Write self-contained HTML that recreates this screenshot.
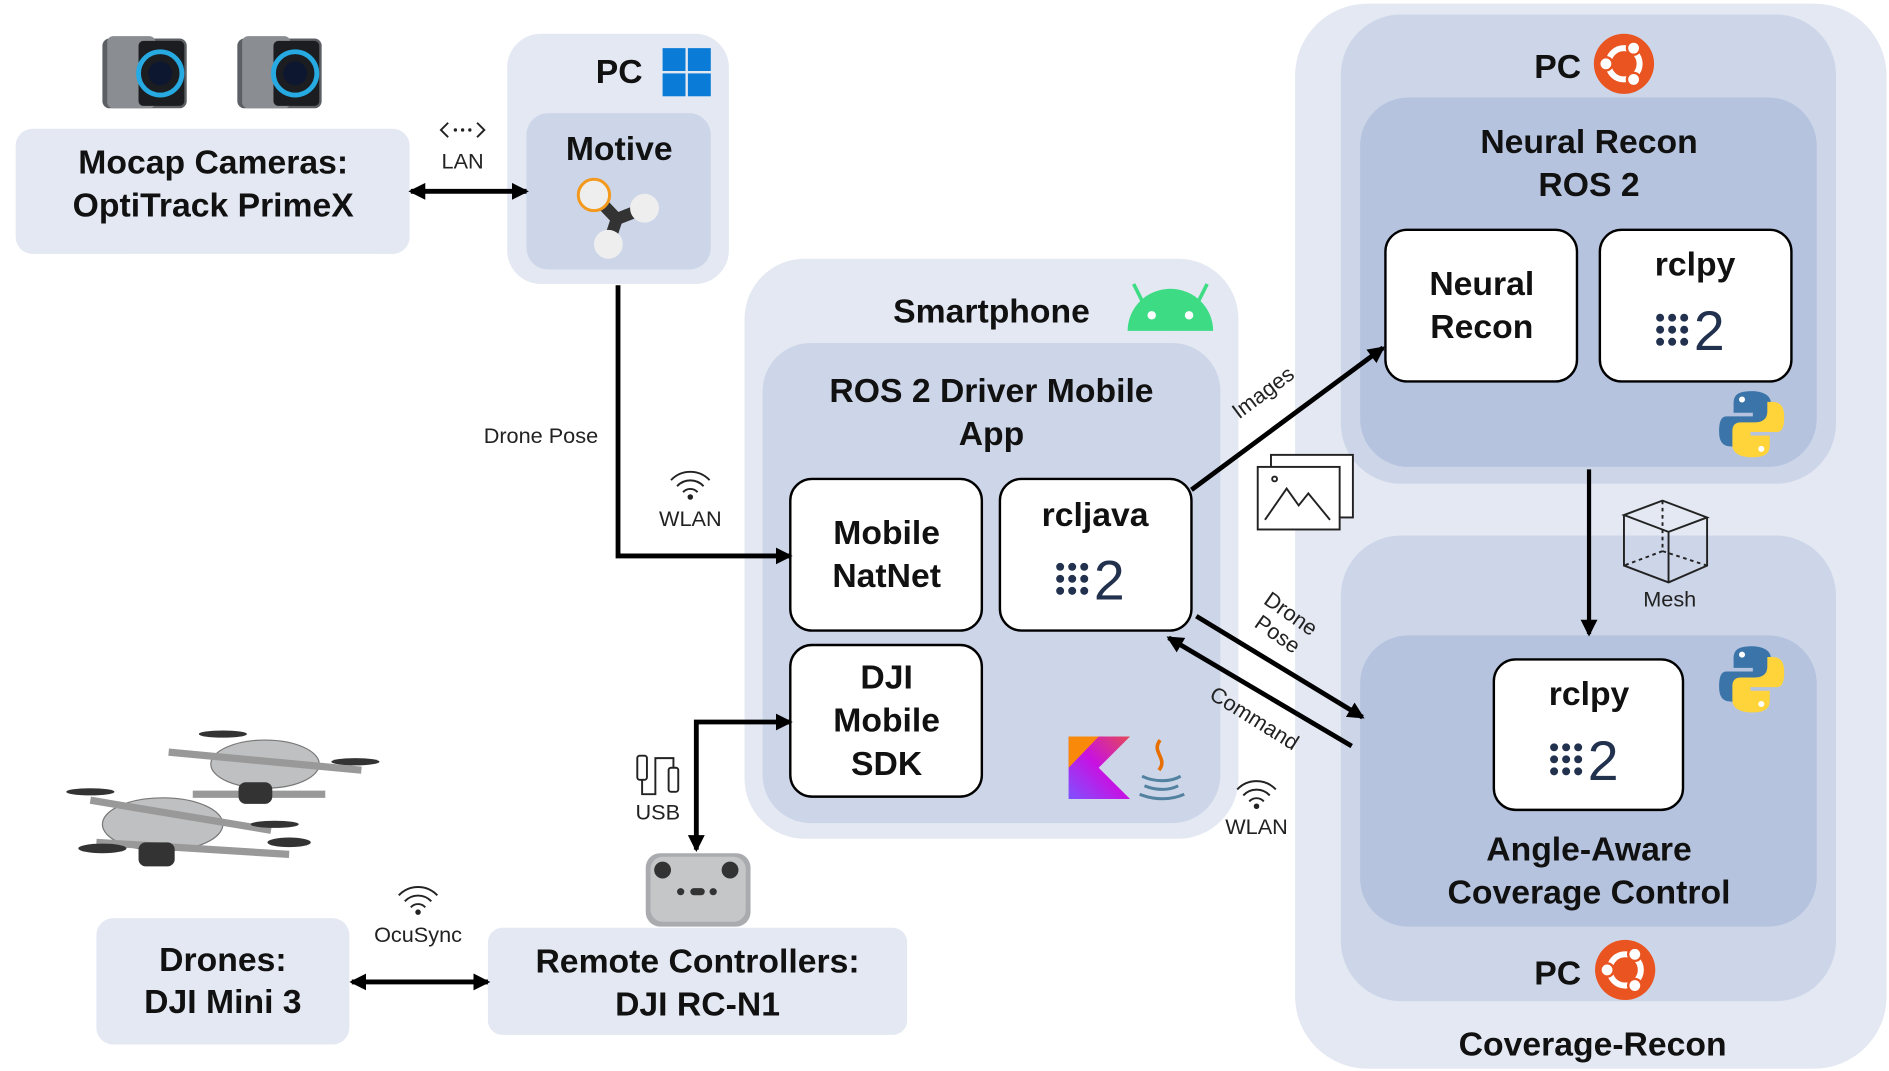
<!DOCTYPE html>
<html><head><meta charset="utf-8"><style>
html,body{margin:0;padding:0;background:#fff;}
svg{display:block;}
text{font-family:"Liberation Sans","Noto Sans CJK JP",sans-serif;}
.b{font-weight:bold;font-size:28px;fill:#111;}
.s{font-size:18px;fill:#222;}
</style></head><body>
<svg width="1889" height="1071" viewBox="0 0 1568 890" preserveAspectRatio="none" xmlns="http://www.w3.org/2000/svg">
<defs>
<marker id="ah" markerWidth="14" markerHeight="14" refX="12" refY="7" orient="auto-start-reverse" markerUnits="userSpaceOnUse" viewBox="0 0 14 14">
<path d="M0,0 L14,7 L0,14 z" fill="#000"/></marker>
<g id="wifi" fill="none" stroke="#222" stroke-width="1.6">
<path d="M-16,-4 A22,22 0 0 1 16,-4"/><path d="M-11,1 A15,15 0 0 1 11,1"/><path d="M-6,6 A8,8 0 0 1 6,6"/><circle cx="0" cy="10" r="1.5" fill="#222"/></g>
<g id="ros"><g fill="#22314e">
<circle cx="0" cy="0" r="3.3"/><circle cx="10" cy="0" r="3.3"/><circle cx="20" cy="0" r="3.3"/>
<circle cx="0" cy="10" r="3.3"/><circle cx="10" cy="10" r="3.3"/><circle cx="20" cy="10" r="3.3"/>
<circle cx="0" cy="20" r="3.3"/><circle cx="10" cy="20" r="3.3"/><circle cx="20" cy="20" r="3.3"/></g>
<text x="28" y="27" font-size="46" fill="#22314e">2</text></g>
<g id="ubu"><circle r="25" fill="#e95420"/><circle r="13" fill="none" stroke="#fff" stroke-width="5"/>
<circle cx="-15" cy="0" r="5.5" fill="#fff" stroke="#e95420" stroke-width="2"/><circle cx="8" cy="-13" r="5.5" fill="#fff" stroke="#e95420" stroke-width="2"/><circle cx="8" cy="13" r="5.5" fill="#fff" stroke="#e95420" stroke-width="2"/></g>
<g id="py"><path d="M27,0 C12,0 12,6 12,12 L12,18 L28,18 L28,21 L6,21 C0,21 0,30 0,34 C0,44 5,46 10,46 L14,46 L14,38 C14,32 18,29 24,29 L36,29 C41,29 43,26 43,22 L43,10 C43,4 37,0 27,0 z" fill="#3a74a8"/>
<path d="M27,55 C42,55 42,49 42,43 L42,37 L26,37 L26,34 L48,34 C54,34 54,25 54,21 C54,11 49,9 44,9 L40,9 L40,17 C40,23 36,26 30,26 L18,26 C13,26 11,29 11,33 L11,45 C11,51 17,55 27,55 z" fill="#ffd43b"/>
<circle cx="19" cy="7" r="2.5" fill="#fff"/><circle cx="35" cy="48" r="2.5" fill="#fff"/></g>
<g id="cam"><rect x="0" y="2" width="70" height="58" rx="6" fill="#5c5f63"/><rect x="4" y="0" width="40" height="60" rx="5" fill="#8a8d91"/><rect x="30" y="4" width="38" height="54" rx="4" fill="#1c1d20"/><circle cx="48" cy="31" r="18" fill="none" stroke="#27a9e1" stroke-width="4"/><circle cx="48" cy="31" r="10" fill="#0d1830"/></g>
</defs>

<!-- Mocap -->
<use href="#cam" x="85" y="30"/><use href="#cam" x="197" y="30"/>
<rect x="13" y="107" width="327" height="104" rx="14" fill="#e3e8f2"/>
<text class="b" x="177" y="144" text-anchor="middle">Mocap Cameras:</text>
<text class="b" x="177" y="180" text-anchor="middle">OptiTrack PrimeX</text>
<path d="M372,102 L366,108 L372,114 M396,102 L402,108 L396,114" fill="none" stroke="#222" stroke-width="1.6"/>
<circle cx="378" cy="108" r="1.4" fill="#222"/><circle cx="384" cy="108" r="1.4" fill="#222"/><circle cx="390" cy="108" r="1.4" fill="#222"/>
<text class="s" x="384" y="140" text-anchor="middle">LAN</text>

<!-- PC windows -->
<rect x="421" y="28" width="184" height="208" rx="28" fill="#e3e8f2"/>
<text class="b" x="514" y="69" text-anchor="middle">PC</text>
<g fill="#0a7bd6"><rect x="550" y="40" width="19" height="19"/><rect x="571" y="40" width="19" height="19"/><rect x="550" y="61" width="19" height="19"/><rect x="571" y="61" width="19" height="19"/></g>
<rect x="437" y="94" width="153" height="130" rx="18" fill="#cdd6e9"/>
<text class="b" x="514" y="133" text-anchor="middle">Motive</text>
<line x1="493" y1="162" x2="512" y2="182" stroke="#333" stroke-width="10"/><line x1="535" y1="173" x2="512" y2="182" stroke="#333" stroke-width="10"/><line x1="505" y1="203" x2="512" y2="182" stroke="#333" stroke-width="10"/>
<circle cx="493" cy="162" r="13" fill="#eee" stroke="#f39a1e" stroke-width="2.5"/><circle cx="535" cy="173" r="12" fill="#eee"/><circle cx="505" cy="203" r="12" fill="#eee"/>

<text class="s" x="449" y="368" text-anchor="middle">Drone Pose</text>
<use href="#wifi" x="573" y="403"/>
<text class="s" x="573" y="437" text-anchor="middle">WLAN</text>

<!-- Smartphone -->
<rect x="618" y="215" width="410" height="482" rx="50" fill="#e3e8f2"/>
<text class="b" x="823" y="268" text-anchor="middle">Smartphone</text>
<path d="M936,275 A35.5,35 0 0 1 1007,275 z" fill="#3ddc84"/>
<line x1="948" y1="250" x2="941" y2="236" stroke="#3ddc84" stroke-width="3"/><line x1="995" y1="250" x2="1002" y2="236" stroke="#3ddc84" stroke-width="3"/>
<circle cx="956" cy="262" r="3.5" fill="#fff"/><circle cx="987" cy="262" r="3.5" fill="#fff"/>
<rect x="633" y="285" width="380" height="399" rx="40" fill="#cdd6e9"/>
<text class="b" x="823" y="334" text-anchor="middle">ROS 2 Driver Mobile</text>
<text class="b" x="823" y="370" text-anchor="middle">App</text>
<g fill="#fff" stroke="#000" stroke-width="2">
<rect x="656" y="398" width="159" height="126" rx="18"/><rect x="830" y="398" width="159" height="126" rx="18"/><rect x="656" y="536" width="159" height="126" rx="18"/></g>
<text class="b" x="736" y="452" text-anchor="middle">Mobile</text><text class="b" x="736" y="488" text-anchor="middle">NatNet</text>
<text class="b" x="909" y="437" text-anchor="middle">rcljava</text><use href="#ros" x="880" y="471"/>
<text class="b" x="736" y="572" text-anchor="middle">DJI</text><text class="b" x="736" y="608" text-anchor="middle">Mobile</text><text class="b" x="736" y="644" text-anchor="middle">SDK</text>
<linearGradient id="kg" x1="0" y1="1" x2="1" y2="0"><stop offset="0" stop-color="#7f52ff"/><stop offset="0.5" stop-color="#c811e2"/><stop offset="1" stop-color="#e44857"/></linearGradient>
<path d="M887,612 L938,612 L912,638 L938,664 L887,664 z" fill="url(#kg)"/><path d="M887,612 L912,612 L887,638 z" fill="#f88909"/>
<path d="M963,615 C955,625 970,630 962,640" fill="none" stroke="#e76f00" stroke-width="3"/>
<path d="M948,645 C958,650 972,650 980,645 M950,653 C960,657 970,657 978,653 M946,660 C958,665 972,665 983,660" fill="none" stroke="#5382a1" stroke-width="2.5"/>

<!-- USB -->
<g fill="none" stroke="#222" stroke-width="1.6"><rect x="529" y="628" width="8" height="20" rx="2"/><rect x="555" y="638" width="8" height="20" rx="2"/><path d="M533,648 L533,660 L544,660 L544,630 L559,630 L559,638"/></g>
<text class="s" x="546" y="681" text-anchor="middle">USB</text>
<rect x="536" y="709" width="87" height="61" rx="12" fill="#a9abae"/><rect x="540" y="712" width="79" height="54" rx="10" fill="#c4c6c8"/>
<circle cx="550" cy="723" r="7" fill="#333"/><circle cx="606" cy="723" r="7" fill="#333"/><circle cx="565" cy="741" r="3" fill="#333"/><circle cx="592" cy="741" r="3" fill="#333"/><rect x="573" y="738" width="12" height="6" rx="3" fill="#333"/>

<!-- RC & Drones -->
<rect x="405" y="771" width="348" height="89" rx="12" fill="#e3e8f2"/>
<text class="b" x="579" y="808" text-anchor="middle">Remote Controllers:</text>
<text class="b" x="579" y="844" text-anchor="middle">DJI RC-N1</text>
<rect x="80" y="763" width="210" height="105" rx="14" fill="#e3e8f2"/>
<text class="b" x="185" y="807" text-anchor="middle">Drones:</text>
<text class="b" x="185" y="842" text-anchor="middle">DJI Mini 3</text>
<use href="#wifi" x="347" y="748"/>
<text class="s" x="347" y="783" text-anchor="middle">OcuSync</text>
<!-- drone images -->
<g fill="#bfc0c1" stroke="#777" stroke-width="1">
<ellipse cx="220" cy="635" rx="45" ry="20"/><line x1="140" y1="625" x2="300" y2="640" stroke="#999" stroke-width="6"/><line x1="160" y1="660" x2="270" y2="660" stroke="#999" stroke-width="6"/>
<ellipse cx="135" cy="685" rx="50" ry="22"/><line x1="75" y1="665" x2="225" y2="690" stroke="#999" stroke-width="6"/><line x1="80" y1="700" x2="240" y2="710" stroke="#999" stroke-width="6"/></g>
<g fill="#333"><ellipse cx="185" cy="610" rx="20" ry="3"/><ellipse cx="295" cy="633" rx="20" ry="3"/><ellipse cx="75" cy="658" rx="20" ry="3"/><ellipse cx="228" cy="685" rx="20" ry="3"/><ellipse cx="85" cy="705" rx="20" ry="4"/><ellipse cx="240" cy="700" rx="18" ry="4"/><rect x="115" y="700" width="30" height="20" rx="6"/><rect x="198" y="650" width="28" height="18" rx="6"/></g>

<!-- Coverage-Recon -->
<rect x="1075" y="3" width="491" height="885" rx="60" fill="#e3e8f2"/>
<text class="b" x="1322" y="877" text-anchor="middle">Coverage-Recon</text>
<rect x="1113" y="12" width="411" height="390" rx="50" fill="#cdd6e9"/>
<text class="b" x="1293" y="65" text-anchor="middle">PC</text><use href="#ubu" x="1348" y="53"/>
<rect x="1129" y="81" width="379" height="307" rx="40" fill="#b5c3de"/>
<text class="b" x="1319" y="127" text-anchor="middle">Neural Recon</text>
<text class="b" x="1319" y="163" text-anchor="middle">ROS 2</text>
<g fill="#fff" stroke="#000" stroke-width="2"><rect x="1150" y="191" width="159" height="126" rx="18"/><rect x="1328" y="191" width="159" height="126" rx="18"/></g>
<text class="b" x="1230" y="245" text-anchor="middle">Neural</text><text class="b" x="1230" y="281" text-anchor="middle">Recon</text>
<text class="b" x="1407" y="229" text-anchor="middle">rclpy</text><use href="#ros" x="1378" y="264"/>
<use href="#py" x="1427" y="325"/>

<rect x="1113" y="445" width="411" height="387" rx="50" fill="#cdd6e9"/>
<text class="b" x="1293" y="818" text-anchor="middle">PC</text><use href="#ubu" x="1349" y="806"/>
<rect x="1129" y="528" width="379" height="242" rx="40" fill="#b5c3de"/>
<g fill="#fff" stroke="#000" stroke-width="2"><rect x="1240" y="548" width="157" height="125" rx="18"/></g>
<text class="b" x="1319" y="586" text-anchor="middle">rclpy</text><use href="#ros" x="1290" y="621"/>
<use href="#py" x="1427" y="537"/>
<text class="b" x="1319" y="715" text-anchor="middle">Angle-Aware</text>
<text class="b" x="1319" y="751" text-anchor="middle">Coverage Control</text>

<!-- Mesh icon -->
<g fill="none" stroke="#222" stroke-width="1.6"><path d="M1348,428 L1380,416 L1417,430 L1385,442 z M1348,428 L1348,470 L1385,484 L1417,470 L1417,430 M1385,442 L1385,484"/><path d="M1380,416 L1380,458 L1348,470 M1380,458 L1417,470" stroke-dasharray="3,3"/></g>
<text class="s" x="1386" y="504" text-anchor="middle">Mesh</text>

<!-- Connectors (drawn on top) -->
<line x1="341" y1="159" x2="437" y2="159" stroke="#000" stroke-width="4" marker-start="url(#ah)" marker-end="url(#ah)"/>
<polyline points="513,237 513,462 656,462" fill="none" stroke="#000" stroke-width="4" marker-end="url(#ah)"/>
<polyline points="578,706 578,600 656,600" fill="none" stroke="#000" stroke-width="4" marker-start="url(#ah)" marker-end="url(#ah)"/>
<line x1="292" y1="816" x2="405" y2="816" stroke="#000" stroke-width="4" marker-start="url(#ah)" marker-end="url(#ah)"/>
<line x1="1319" y1="390" x2="1319" y2="527" stroke="#000" stroke-width="3.5" marker-end="url(#ah)"/>

<line x1="989" y1="407" x2="1148" y2="289" stroke="#000" stroke-width="4" marker-end="url(#ah)"/>
<text class="s" x="1052" y="331" text-anchor="middle" transform="rotate(-37 1052 331)">Images</text>
<g fill="#fff" stroke="#222" stroke-width="1.6"><rect x="1055" y="378" width="68" height="52"/><rect x="1044" y="388" width="68" height="52"/><path d="M1050,432 L1068,406 L1078,420 L1086,410 L1104,432" fill="none"/><circle cx="1058" cy="398" r="2"/></g>
<line x1="993" y1="512" x2="1131" y2="596" stroke="#000" stroke-width="4" marker-end="url(#ah)"/>
<text class="s" x="1068" y="515" text-anchor="middle" transform="rotate(35 1068 515)">Drone</text>
<text class="s" x="1057" y="532" text-anchor="middle" transform="rotate(35 1057 532)">Pose</text>
<line x1="1122" y1="620" x2="970" y2="530" stroke="#000" stroke-width="4" marker-end="url(#ah)"/>
<text class="s" x="1038" y="602" text-anchor="middle" transform="rotate(32 1038 602)">Command</text>
<use href="#wifi" x="1043" y="660"/>
<text class="s" x="1043" y="693" text-anchor="middle">WLAN</text>
</svg>
</body></html>
